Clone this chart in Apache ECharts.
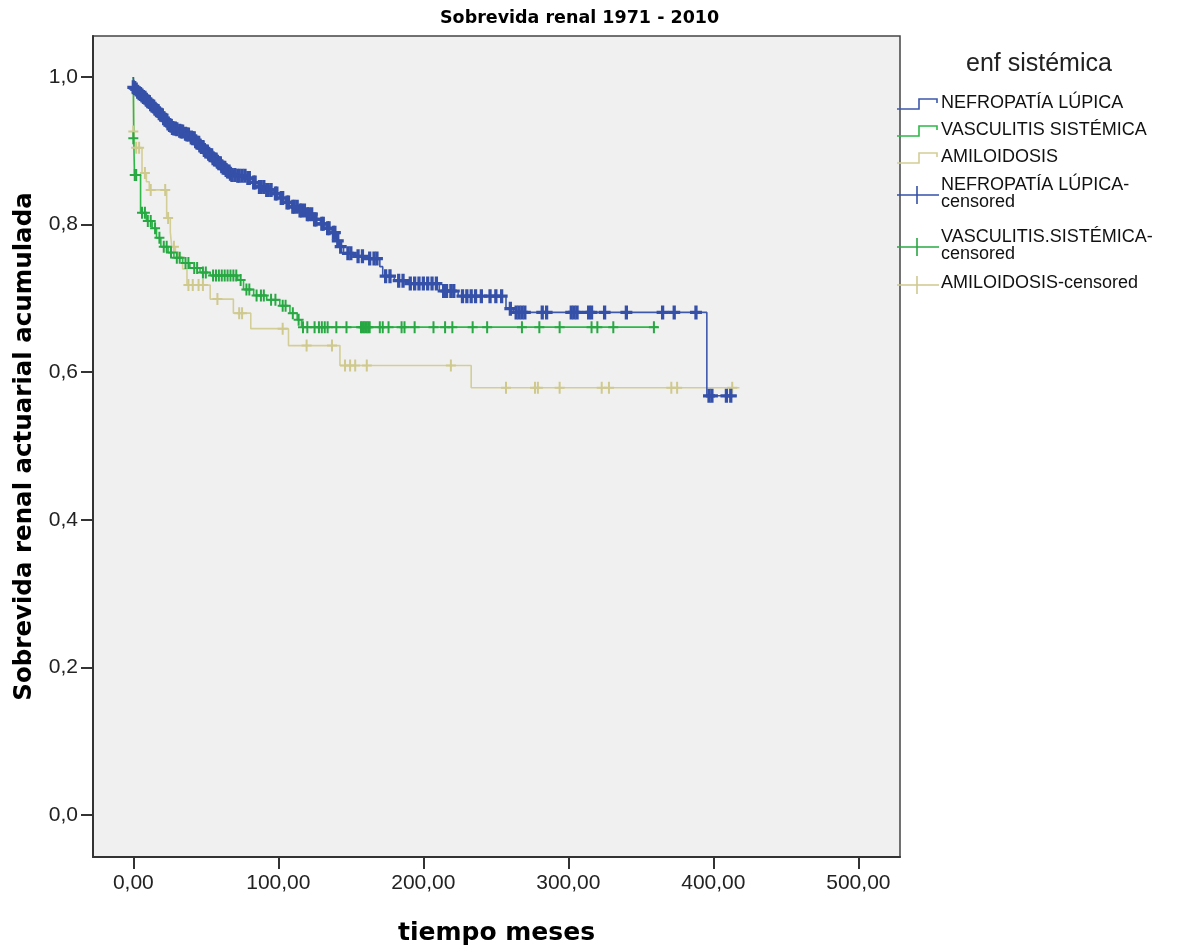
<!DOCTYPE html>
<html>
<head>
<meta charset="utf-8">
<script src="https://cdn.jsdelivr.net/npm/echarts@6/dist/echarts.min.js"></script>
<style>
html,body{margin:0;padding:0;background:#fff;}
#chart{width:1193px;height:952px;}
</style>
</head>
<body>
<div id="chart"></div>
<script>
// ---- data ----
const chartTitle = 'Sobrevida renal 1971 - 2010';
const xAxisName = 'tiempo meses';
const yAxisName = 'Sobrevida renal actuarial acumulada';
const legendTitle = 'enf sistémica';
const groupNames = ['NEFROPATÍA LÚPICA', 'VASCULITIS SISTÉMICA', 'AMILOIDOSIS'];
const censorNames = ['NEFROPATÍA LÚPICA-censored', 'VASCULITIS.SISTÉMICA-censored', 'AMILOIDOSIS-censored'];
const xTicks = [0, 100, 200, 300, 400, 500];
const yTicks = [0, 0.2, 0.4, 0.6, 0.8, 1.0];

// Kaplan-Meier steps: [time (months), cumulative survival]
const lupusSteps = [[0,1.0],[0.5,0.986],[3,0.980],[6,0.975],[9,0.969],[12,0.963],[15,0.957],[18,0.951],[21,0.944],[24,0.937],[27,0.931],[31,0.927],[35,0.924],[39,0.919],[43,0.913],[46,0.907],[49,0.901],[52,0.896],[55,0.890],[58,0.885],[61,0.879],[64,0.874],[67,0.869],[71,0.866],[78,0.863],[82,0.857],[86,0.851],[91,0.847],[97,0.842],[101,0.836],[105,0.830],[109,0.824],[114,0.819],[119,0.814],[124,0.807],[129,0.801],[133,0.795],[137,0.789],[140,0.778],[142,0.770],[145,0.761],[152,0.757],[160,0.754],[170,0.743],[172,0.730],[180,0.724],[188,0.720],[211,0.710],[224,0.703],[257,0.686],[262,0.681],[395.5,0.568],[416,0.568]];
const vascSteps = [[0,1.0],[0.3,0.917],[0.8,0.867],[5,0.816],[9,0.805],[13,0.795],[16,0.782],[19,0.770],[24,0.762],[28,0.755],[34,0.748],[39,0.741],[46,0.735],[53,0.731],[72,0.725],[76,0.712],[83,0.704],[92,0.698],[101,0.690],[108,0.680],[113,0.671],[116,0.661],[362,0.661]];
const amyloidSteps = [[0,1.0],[0.3,0.926],[1,0.904],[6,0.870],[9,0.858],[11,0.847],[23,0.809],[25.5,0.790],[26.5,0.770],[29,0.763],[31,0.756],[34,0.740],[37,0.718],[53,0.699],[69,0.680],[81,0.659],[107,0.636],[142.5,0.609],[233,0.579],[418,0.579]];

// censored observations: [time, survival]
const lupusCensored = [[0,0.986],[1,0.985],[2,0.983],[3,0.980],[4,0.978],[5,0.977],[6,0.975],[7,0.973],[8,0.972],[9,0.969],[10,0.967],[11,0.966],[12,0.963],[13,0.961],[14,0.960],[15,0.957],[16,0.955],[17,0.954],[18,0.951],[19,0.949],[20,0.948],[21,0.944],[22,0.942],[23,0.941],[24,0.937],[25,0.935],[26,0.934],[27,0.931],[28,0.930],[29,0.930],[30,0.929],[32,0.927],[33,0.926],[34,0.926],[36,0.923],[37,0.922],[38,0.922],[40,0.918],[41,0.917],[42,0.917],[43,0.913],[44,0.911],[45,0.911],[46,0.907],[47,0.905],[48,0.905],[49,0.901],[50,0.899],[51,0.899],[52,0.896],[53,0.894],[54,0.894],[55,0.890],[56,0.888],[57,0.888],[58,0.885],[59,0.883],[60,0.883],[61,0.879],[62,0.877],[63,0.877],[64,0.874],[65,0.872],[66,0.872],[67,0.869],[68,0.867],[70,0.867],[72,0.866],[73,0.866],[75,0.866],[77,0.866],[79,0.863],[80,0.863],[83,0.857],[84,0.857],[87,0.851],[88,0.851],[90,0.851],[92,0.847],[93,0.847],[95,0.847],[98,0.842],[99,0.842],[102,0.836],[103,0.836],[106,0.830],[107,0.830],[110,0.824],[111,0.824],[113,0.824],[115,0.819],[116,0.819],[118,0.819],[120,0.814],[121,0.814],[123,0.814],[125,0.807],[126,0.807],[130,0.801],[131,0.801],[134,0.795],[135,0.795],[138,0.789],[139,0.789],[141,0.778],[143,0.770],[148,0.761],[150,0.761],[155,0.757],[158,0.757],[163,0.754],[166,0.754],[168,0.754],[174,0.730],[177,0.730],[183,0.724],[186,0.724],[191,0.720],[194,0.720],[197,0.720],[200,0.720],[203,0.720],[206,0.720],[209,0.720],[214,0.710],[216,0.710],[219,0.710],[221,0.710],[227,0.703],[230,0.703],[233,0.703],[236,0.703],[240,0.703],[246,0.703],[250,0.703],[254,0.703],[260,0.686],[264,0.681],[266,0.681],[268,0.681],[270,0.681],[282,0.681],[285,0.681],[302,0.681],[304,0.681],[306,0.681],[314,0.681],[316,0.681],[325,0.681],[340,0.681],[365,0.681],[373,0.681],[388,0.681],[397,0.568],[399,0.568],[409,0.568],[412,0.568]];
const vascCensored = [[0,0.917],[1,0.867],[2,0.867],[6,0.816],[8,0.816],[10,0.805],[12,0.805],[15,0.795],[18,0.782],[21,0.770],[23,0.770],[26,0.762],[30,0.755],[32,0.755],[36,0.748],[38,0.748],[42,0.741],[44,0.741],[48,0.735],[50,0.735],[55,0.731],[57,0.731],[59,0.731],[61,0.731],[63,0.731],[65,0.731],[67,0.731],[69,0.731],[71,0.731],[74,0.725],[78,0.712],[80,0.712],[85,0.704],[88,0.704],[90,0.704],[95,0.698],[98,0.698],[103,0.690],[105,0.690],[110,0.680],[114,0.671],[117,0.661],[120,0.661],[125,0.661],[128,0.661],[130,0.661],[132,0.661],[134,0.661],[140,0.661],[147,0.661],[157,0.661],[158,0.661],[159,0.661],[160,0.661],[161,0.661],[162,0.661],[163,0.661],[170,0.661],[172,0.661],[176,0.661],[185,0.661],[187,0.661],[194,0.661],[207,0.661],[215,0.661],[220,0.661],[234,0.661],[244,0.661],[268,0.661],[280,0.661],[294,0.661],[316,0.661],[320,0.661],[331,0.661],[359,0.661]];
const amyloidCensored = [[0,0.926],[2,0.904],[4,0.904],[8,0.870],[12,0.847],[22,0.847],[24,0.809],[28,0.770],[38,0.718],[41,0.718],[45,0.718],[48,0.718],[58,0.699],[73,0.680],[75,0.680],[103,0.659],[119.5,0.636],[137,0.636],[146,0.609],[149.5,0.609],[153,0.609],[161,0.609],[219,0.609],[257,0.579],[277,0.579],[279,0.579],[294,0.579],[323,0.579],[328,0.579],[371,0.579],[375,0.579],[413,0.579]];

// ---- styling ----
const colors = ['#3E58AC', '#2EB848', '#D3CE97'];
const censorColors = ['#3550A8', '#28A843', '#CFC98E'];
const plusPath = 'path://M4,0H6V5H10V7H6V12H4V7H0V5H4Z';
const plusBold = 'path://M4,0H7V5H11V8H7V13H4V8H0V5H4Z';
const tickFont = 'Liberation Sans, Arial, sans-serif';

const chart = echarts.init(document.getElementById('chart'), null, {renderer: 'canvas'});

const stepSeries = [lupusSteps, vascSteps, amyloidSteps].map((d, i) => ({
  name: groupNames[i], type: 'line', step: 'end', data: d,
  showSymbol: false, symbol: 'none', z: 3,
  lineStyle: {color: colors[i], width: 1.6}, itemStyle: {color: colors[i]},
  animation: false, silent: true
}));
const censorSymbols = [plusBold, plusPath, plusPath];
const censorSizes = [[12, 14], [10, 12], [10, 12]];
const censorSeries = [lupusCensored, vascCensored, amyloidCensored].map((d, i) => ({
  name: censorNames[i], type: 'scatter', data: d,
  symbol: censorSymbols[i], symbolSize: censorSizes[i],
  itemStyle: {color: censorColors[i], opacity: 1},
  animation: false, silent: true, z: 4
}));

// legend drawn as graphics (SPSS style)
const legendX = 897, textX = 941;
const legendRows = [
  {y: 104, lines: [groupNames[0]], kind: 'step', c: colors[0]},
  {y: 131, lines: [groupNames[1]], kind: 'step', c: colors[1]},
  {y: 158, lines: [groupNames[2]], kind: 'step', c: colors[2]},
  {y: 194, lines: ['NEFROPATÍA LÚPICA-', 'censored'], kind: 'cross', c: censorColors[0]},
  {y: 246, lines: ['VASCULITIS.SISTÉMICA-', 'censored'], kind: 'cross', c: censorColors[1]},
  {y: 284, lines: [censorNames[2]], kind: 'cross', c: censorColors[2]}
];
const graphics = [{
  type: 'text', left: 966, top: 52,
  style: {text: legendTitle, font: '25px Liberation Sans, Arial, sans-serif', fill: '#222'}
}, {
  type: 'text', left: 440, top: 9,
  style: {text: chartTitle, font: 'bold 17.5px DejaVu Sans, sans-serif', fill: '#000'}
}];
legendRows.forEach(r => {
  if (r.kind === 'step') {
    graphics.push({type: 'polyline', shape: {points: [[legendX, r.y + 5], [legendX + 22, r.y + 5], [legendX + 22, r.y - 5], [legendX + 40, r.y - 5], [legendX + 40, r.y - 1]]},
      style: {stroke: r.c, lineWidth: 1.6, fill: null}});
  } else {
    graphics.push({type: 'line', shape: {x1: legendX, y1: r.y + 1, x2: legendX + 42, y2: r.y + 1}, style: {stroke: r.c, lineWidth: 1.4}});
    graphics.push({type: 'line', shape: {x1: legendX + 20, y1: r.y - 8, x2: legendX + 20, y2: r.y + 10}, style: {stroke: r.c, lineWidth: 1.6}});
  }
  const h = 17;
  const top0 = r.y - (r.lines.length * h) / 2 - 1;
  r.lines.forEach((t, k) => {
    graphics.push({type: 'text', left: textX, top: top0 + k * h,
      style: {text: t, font: '18px Liberation Sans, Arial, sans-serif', fill: '#111'}});
  });
});

const option = {
  backgroundColor: '#ffffff',
  animation: false,
  grid: {
    left: 93, top: 36, right: 293, bottom: 95, containLabel: false,
    show: true, backgroundColor: '#F0F0F0', borderColor: '#444', borderWidth: 1.5
  },
  xAxis: {
    type: 'value', min: -27.8, max: 528.7,
    name: xAxisName, nameLocation: 'middle', nameGap: 64,
    nameTextStyle: {fontFamily: 'DejaVu Sans, sans-serif', fontWeight: 'bold', fontSize: 25, color: '#000'},
    axisLine: {show: true, onZero: false, lineStyle: {color: '#333', width: 2}},
    axisTick: {show: true, customValues: xTicks, length: 12, lineStyle: {color: '#333', width: 2}},
    axisLabel: {customValues: xTicks, margin: 16, fontFamily: tickFont, fontSize: 21, color: '#222',
      formatter: v => v.toFixed(2).replace('.', ',')},
    splitLine: {show: false}
  },
  yAxis: {
    type: 'value', min: -0.0569, max: 1.0555,
    name: yAxisName, nameLocation: 'middle', nameGap: 56,
    nameTextStyle: {fontFamily: 'DejaVu Sans, sans-serif', fontWeight: 'bold', fontSize: 24.5, color: '#000'},
    axisLine: {show: true, onZero: false, lineStyle: {color: '#333', width: 2}},
    axisTick: {show: true, customValues: yTicks, length: 12, lineStyle: {color: '#333', width: 2}},
    axisLabel: {customValues: yTicks, margin: 15, fontFamily: tickFont, fontSize: 21, color: '#222',
      formatter: v => v.toFixed(1).replace('.', ',')},
    splitLine: {show: false}
  },
  graphic: graphics,
  series: [stepSeries[2], stepSeries[1], stepSeries[0], censorSeries[2], censorSeries[1], censorSeries[0]]
};
chart.setOption(option);
</script>
</body>
</html>
